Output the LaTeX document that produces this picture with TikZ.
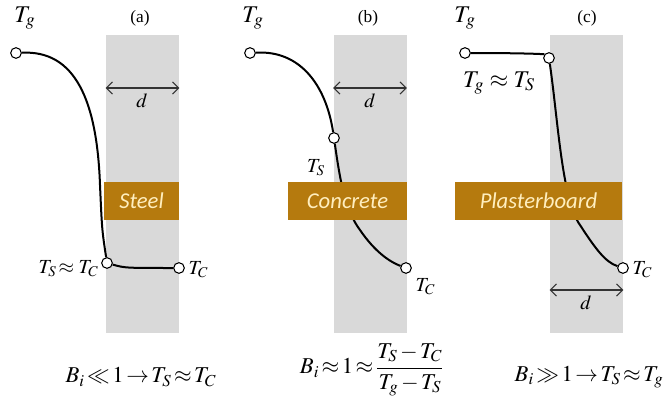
\documentclass[tikz,border=0pt]{standalone}
\usepackage{mathptmx}
\usepackage{amsmath}
\usepackage{fontspec}
\setmainfont{Liberation Serif}
\newfontfamily\matfont{Carlito}
\usetikzlibrary{arrows.meta,positioning}
\definecolor{slabgray}{RGB}{217,217,217}
\definecolor{matbrown}{RGB}{181,122,14}
\definecolor{matcream}{RGB}{255,238,190}
\newcommand\tightmath{\thickmuskip=2mu\relax\medmuskip=2mu\relax}

\begin{document}
\begin{tikzpicture}[
  x=0.75pt, y=-0.75pt,
  font=\fontsize{15}{17}\selectfont,
  slab/.style={fill=slabgray, draw=none, inner sep=0pt, minimum width=54.75pt, minimum height=223.5pt},
  material/.style={fill=matbrown, text=matcream, inner sep=0pt, minimum height=28.5pt, font=\matfont\itshape\fontsize{17}{20}\selectfont},
  probe/.style={circle, draw, thick, fill=white, inner sep=0pt, minimum size=8pt},
  profile/.style={line width=1.5pt},
  span/.style={{Straight Barb[length=1.6mm,width=3.2mm]}-{Straight Barb[length=1.6mm,width=3.2mm]}, draw=black!80, line width=0.8pt},
  tgas/.style={font=\fontsize{18}{20}\selectfont},
  caption/.style={font=\fontsize{13}{15}\selectfont},
  biot/.style={inner sep=1pt, font=\fontsize{17}{19}\selectfont\tightmath}
]
  \useasboundingbox (0,0) rectangle (665,414);

  % slabs
  \node[slab] (slabA) at (142.5,184) {};
  \node[slab] (slabB) at (370,184) {};
  \node[slab] (slabC) at (586.5,184) {};

  \node[caption] (capA) at (140,18) {(a)};
  \node[caption] (capB) at (368,18) {(b)};
  \node[caption] (capC) at (587,18) {(c)};

  % thickness arrows
  \coordinate (dA) at (142,88);
  \coordinate (dB) at (370,88);
  \coordinate (dC) at (586,290);
  \draw[span] (slabA.west |- dA) -- (slabA.east |- dA);
  \draw[span] (slabB.west |- dB) -- (slabB.east |- dB);
  \draw[span] (slabC.west |- dC) -- (slabC.east |- dC);
  \node[below=1pt of dA] (dlabA) {$d$};
  \node[below=1pt of dB] (dlabB) {$d$};
  \node[below=1pt of dC] (dlabC) {$d$};

  % (a) steel
  \node[probe] (gasA) at (16,53) {};
  \node[probe] (surfA) at (107,263) {};
  \node[probe] (coreA) at (179,268) {};
  \draw[profile] (gasA) .. controls (75,50) and (97,100) .. (100,185)
    .. controls (102,230) .. (surfA);
  \draw[profile] (surfA) .. controls (125,268) .. (coreA);
  \node[material, minimum width=56.25pt] (steel) at (141.5,201) {Steel};
  \node[tgas] (tgA) at (25,18) {$T_g$};
  \node[anchor=east, inner sep=1pt] (tsA) at (100,269) {$T_S\!\approx T_C$};
  \node[anchor=west, inner sep=1pt] (tcA) at (187,270) {$T_C$};

  % (b) concrete
  \node[probe] (gasB) at (250,53) {};
  \node[probe] (surfB) at (334,138) {};
  \node[probe] (coreB) at (406,268) {};
  \draw[profile] (gasB) .. controls (300,50) and (326,85) .. (surfB);
  \draw[profile] (surfB) .. controls (340,180) and (345,210) .. (360,230)
    .. controls (375,252) and (390,262) .. (coreB);
  \node[material, minimum width=89.25pt] (concrete) at (347.5,201) {Concrete};
  \node[tgas] (tgB) at (253,18) {$T_g$};
  \node (tsB) at (316,168) {$T_S$};
  \node[anchor=west, inner sep=1pt] (tcB) at (414,287) {$T_C$};

  % (c) plasterboard
  \node[probe] (gasC) at (465,53) {};
  \node[probe] (surfC) at (549,58) {};
  \node[probe] (coreC) at (623,268) {};
  \draw[profile] (gasC) .. controls (520,53) and (544,54) .. (surfC);
  \draw[profile] (surfC) .. controls (558,120) and (562,200) .. (580,225)
    .. controls (595,248) and (605,262) .. (coreC);
  \node[material, minimum width=125.25pt] (plaster) at (538.5,201) {Plasterboard};
  \node[tgas] (tgC) at (465,18) {$T_g$};
  \node[tgas] (tsC) at (499,83) {$T_g \approx T_S$};
  \node[anchor=west, inner sep=1pt] (tcC) at (631,270) {$T_C$};

  % Biot number relations
  \node[biot] (biotA) at (141,377) {$B_i \ll 1 \rightarrow T_S \approx T_C$};
  \node[biot] (biotB) at (372,370) {$B_i \approx 1 \approx \dfrac{T_S - T_C}{T_g - T_S}$};
  \node[biot] (biotC) at (589,377) {$B_i \gg 1 \rightarrow T_S \approx T_g$};
\end{tikzpicture}
\end{document}
